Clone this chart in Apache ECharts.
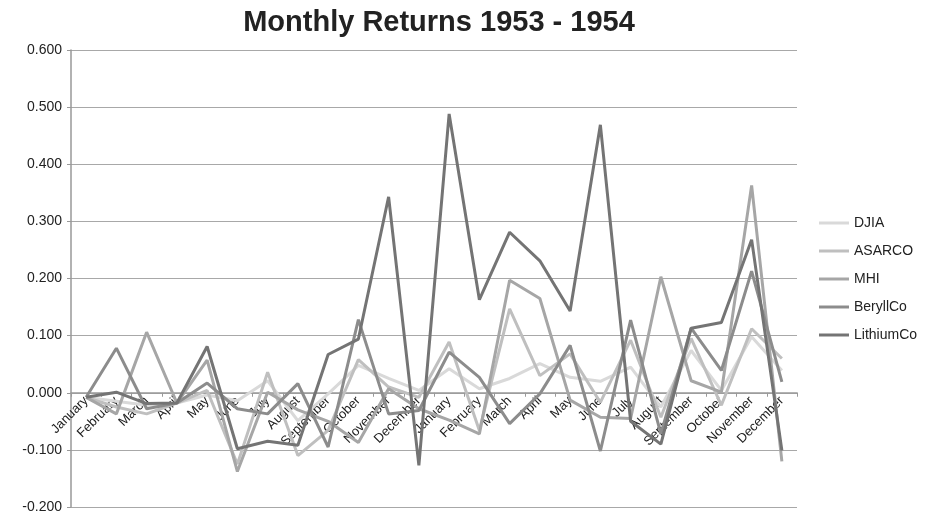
<!DOCTYPE html>
<html>
<head>
<meta charset="utf-8">
<script src="https://cdn.jsdelivr.net/npm/echarts@6/dist/echarts.min.js"></script>
<style>
  html, body { margin: 0; padding: 0; background: #fff; }
  #chart { width: 925px; height: 516px; }
</style>
</head>
<body>
<div id="chart"></div>
<script>
// months, two years in a row
const months = ['January', 'February', 'March', 'April', 'May', 'June', 'July', 'August', 'September', 'October', 'November', 'December',
  'January', 'February', 'March', 'April', 'May', 'June', 'July', 'August', 'September', 'October', 'November', 'December'];

const djia = [-0.008, -0.015, -0.022, -0.018, -0.004, -0.014, 0.021, -0.049, -0.002, 0.048, 0.025, 0.004,
  0.042, 0.007, 0.025, 0.051, 0.027, 0.020, 0.045, -0.025, 0.074, 0.004, 0.098, 0.039];
const asarco = [-0.008, -0.025, -0.037, -0.018, 0.004, -0.125, 0.036, -0.110, -0.066, 0.058, 0.010, -0.008,
  0.089, -0.066, 0.147, 0.030, 0.068, -0.017, 0.092, -0.043, 0.095, -0.022, 0.112, 0.060];
const mhi = [-0.008, -0.037, 0.106, -0.018, 0.057, -0.138, 0.001, -0.030, -0.050, -0.087, 0.007, -0.028,
  -0.048, -0.072, 0.197, 0.165, -0.013, -0.043, -0.045, 0.203, 0.021, 0.001, 0.363, -0.120];
const beryllco = [-0.008, 0.078, -0.028, -0.018, 0.017, -0.028, -0.037, 0.016, -0.095, 0.128, -0.037, -0.031,
  0.071, 0.027, -0.054, -0.002, 0.083, -0.102, 0.127, -0.072, 0.113, 0.039, 0.213, 0.019];
const lithiumco = [-0.008, 0.001, -0.019, -0.018, 0.081, -0.098, -0.085, -0.092, 0.067, 0.094, 0.343, -0.127,
  0.488, 0.163, 0.281, 0.231, 0.143, 0.469, -0.050, -0.090, 0.113, 0.123, 0.268, -0.101];

const names = ['DJIA', 'ASARCO', 'MHI', 'BeryllCo', 'LithiumCo'];
const values = [djia, asarco, mhi, beryllco, lithiumco];
const colors = ['#d9d9d9', '#bfbfbf', '#a6a6a6', '#8c8c8c', '#747474'];

const yMin = -0.2, yMax = 0.6;
const gridTop = 50, gridBottom = 9;
const plotH = 516 - gridTop - gridBottom;
// move the category axis up onto the zero line
const zeroOffset = -plotH * (0 - yMin) / (yMax - yMin);

const font = '"Liberation Sans", Arial, sans-serif';
const myChart = echarts.init(document.getElementById('chart'));

const option = {
  backgroundColor: '#fff',
  animation: false,
  title: {
    text: 'Monthly Returns 1953 - 1954',
    left: 434,
    top: 3,
    textAlign: 'center',
    textStyle: { fontFamily: font, fontSize: 29, fontWeight: 'bold', color: '#222' }
  },
  legend: {
    orient: 'vertical',
    left: 814,
    top: 211,
    icon: 'rect',
    itemWidth: 30,
    itemHeight: 3,
    itemGap: 14,
    data: names,
    textStyle: { fontFamily: font, fontSize: 14, color: '#222' }
  },
  grid: { left: 71, right: 128, top: gridTop, bottom: gridBottom, containLabel: false, outerBoundsMode: 'none' },
  xAxis: {
    type: 'category',
    data: months,
    boundaryGap: true,
    offset: zeroOffset,
    axisLine: { onZero: false, lineStyle: { color: '#999', width: 1.5 } },
    axisTick: { show: true, length: 4, lineStyle: { color: '#999' } },
    axisLabel: { rotate: 45, fontFamily: font, fontSize: 13, color: '#222', margin: 6, interval: 0 },
    splitLine: { show: false }
  },
  yAxis: {
    type: 'value',
    min: yMin,
    max: yMax,
    interval: 0.1,
    axisLine: { show: true, lineStyle: { color: '#999', width: 1.5 } },
    axisTick: { show: true, length: 4, lineStyle: { color: '#999' } },
    axisLabel: {
      fontFamily: font, fontSize: 14, color: '#222', margin: 9,
      formatter: v => v.toFixed(3)
    },
    splitLine: { lineStyle: { color: '#a8a8a8', width: 1 } }
  },
  series: names.map((n, i) => ({
    name: n,
    type: 'line',
    data: values[i],
    showSymbol: false,
    symbol: 'none',
    color: colors[i],
    lineStyle: { color: colors[i], width: 3 }
  }))
};
myChart.setOption(option);
</script>
</body>
</html>
